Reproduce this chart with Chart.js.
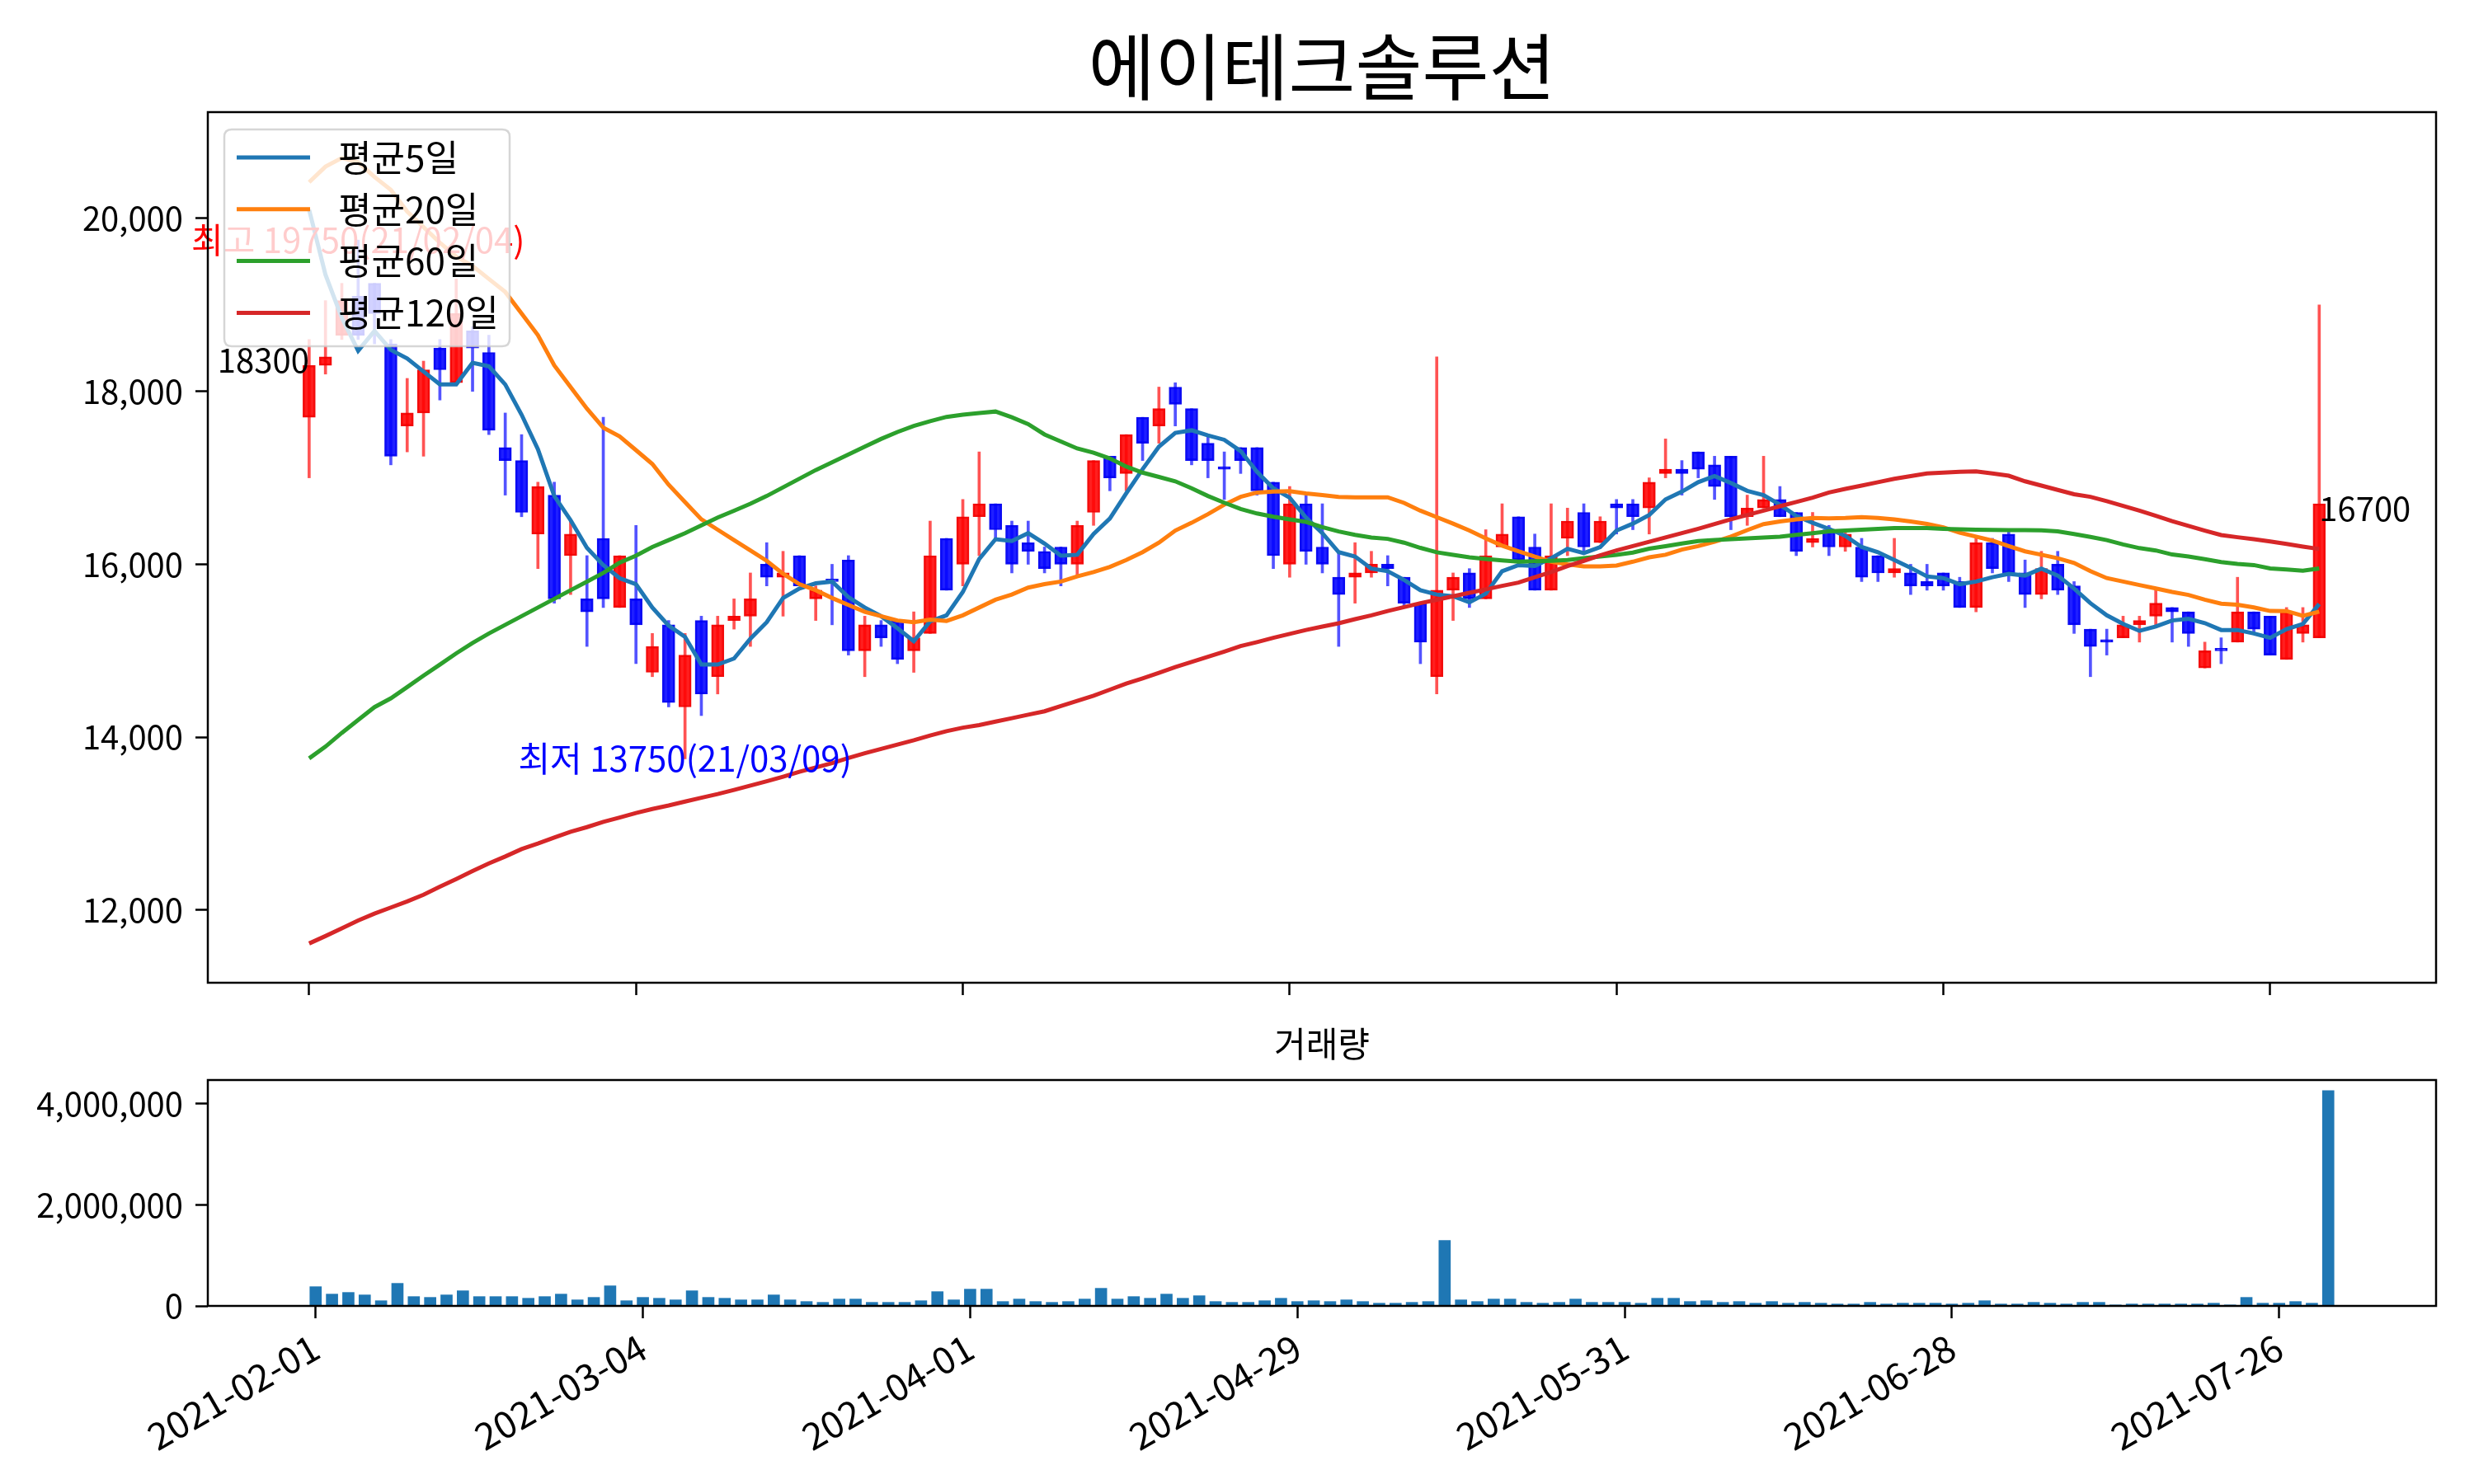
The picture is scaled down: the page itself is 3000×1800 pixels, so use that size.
<!DOCTYPE html>
<html>
<head>
<meta charset="utf-8">
<script src="https://cdn.jsdelivr.net/npm/chart.js@4.4.0/dist/chart.umd.min.js"></script>
<style>
html,body{margin:0;padding:0;background:#fff;}
#wrap{position:relative;width:3000px;height:1800px;background:#fff;overflow:hidden;}
#c1{position:absolute;left:0;top:0;}
#c2{position:absolute;left:0;top:1240px;}
</style>
</head>
<body>
<div id="wrap">
<canvas id="c1" width="3000" height="1240"></canvas>
<canvas id="c2" width="3000" height="560"></canvas>
</div>
<script>
// ---------------- data ----------------
const chartTitle = '에이테크솔루션';
const volumeTitle = '거래량';
const maLabels = ['평균5일', '평균20일', '평균60일', '평균120일'];

const dates = [
 '2021-02-01','2021-02-02','2021-02-03','2021-02-04','2021-02-05','2021-02-08','2021-02-09','2021-02-10','2021-02-15','2021-02-16',
 '2021-02-17','2021-02-18','2021-02-19','2021-02-22','2021-02-23','2021-02-24','2021-02-25','2021-02-26','2021-03-02','2021-03-03',
 '2021-03-04','2021-03-05','2021-03-08','2021-03-09','2021-03-10','2021-03-11','2021-03-12','2021-03-15','2021-03-16','2021-03-17',
 '2021-03-18','2021-03-19','2021-03-22','2021-03-23','2021-03-24','2021-03-25','2021-03-26','2021-03-29','2021-03-30','2021-03-31',
 '2021-04-01','2021-04-02','2021-04-05','2021-04-06','2021-04-07','2021-04-08','2021-04-09','2021-04-12','2021-04-13','2021-04-14',
 '2021-04-15','2021-04-16','2021-04-19','2021-04-20','2021-04-21','2021-04-22','2021-04-23','2021-04-26','2021-04-27','2021-04-28',
 '2021-04-29','2021-04-30','2021-05-03','2021-05-04','2021-05-06','2021-05-07','2021-05-10','2021-05-11','2021-05-12','2021-05-13',
 '2021-05-14','2021-05-17','2021-05-18','2021-05-20','2021-05-21','2021-05-24','2021-05-25','2021-05-26','2021-05-27','2021-05-28',
 '2021-05-31','2021-06-01','2021-06-02','2021-06-03','2021-06-04','2021-06-07','2021-06-08','2021-06-09','2021-06-10','2021-06-11',
 '2021-06-14','2021-06-15','2021-06-16','2021-06-17','2021-06-18','2021-06-21','2021-06-22','2021-06-23','2021-06-24','2021-06-25',
 '2021-06-28','2021-06-29','2021-06-30','2021-07-01','2021-07-02','2021-07-05','2021-07-06','2021-07-07','2021-07-08','2021-07-09',
 '2021-07-12','2021-07-13','2021-07-14','2021-07-15','2021-07-16','2021-07-19','2021-07-20','2021-07-21','2021-07-22','2021-07-23',
 '2021-07-26','2021-07-27','2021-07-28','2021-07-29'
];

const openPrices = [
 17700,18300,18650,19100,19250,18550,17600,17750,18500,18100,
 18700,18450,17350,17200,16350,16800,16100,15600,16300,15500,
 15600,14750,15300,14350,15350,14700,15350,15400,16000,15850,
 16100,15600,15800,16050,15000,15300,15350,15000,15200,16300,
 16000,16550,16700,16450,16250,16150,16200,16000,16600,17250,
 17050,17700,17600,18050,17800,17400,17100,17350,17350,16950,
 16000,16700,16200,15850,15850,15900,16000,15850,15550,14700,
 15700,15900,15600,16200,16550,16200,15700,16300,16600,16250,
 16700,16700,16650,17050,17100,17300,17150,17250,16550,16650,
 16750,16600,16250,16400,16200,16200,16100,15900,15900,15800,
 15900,15800,15500,16250,16350,15900,15650,16000,15750,15250,
 15100,15150,15300,15400,15500,15450,14800,15000,15100,15450,
 15400,14900,15200,15150
];
const highPrices = [
 18600,19050,19250,19750,19250,18600,18150,18350,18600,19300,
 18750,18650,17750,17500,16950,16950,16500,16100,17700,16100,
 16450,15200,15350,15200,15400,15400,15600,15900,16250,16150,
 16100,15750,16000,16100,15400,15350,15350,15450,16500,16300,
 16750,17300,16700,16500,16500,16200,16200,16500,17200,17250,
 17500,17700,18050,18100,17800,17500,17300,17350,17350,16950,
 16900,16800,16700,16150,16250,16150,16100,15850,15550,18400,
 15900,15950,16400,16700,16550,16350,16700,16650,16700,16550,
 16750,16750,17000,17450,17200,17300,17250,17250,16800,17250,
 16900,16600,16600,16450,16400,16300,16100,16300,16000,16000,
 15900,15850,16300,16300,16400,16050,16150,16150,15800,15250,
 15250,15400,15400,15700,15500,15450,15100,15150,15850,15450,
 15400,15500,15500,19000
];
const lowPrices = [
 17000,18200,18600,18600,18550,17150,17300,17250,17900,18100,
 18000,17500,16800,16550,15950,15550,15650,15050,15500,15500,
 14850,14700,14350,13750,14250,14500,15250,15050,15750,15400,
 15750,15350,15300,14950,14700,15050,14850,14750,15200,15700,
 15750,16100,16300,15900,16000,15900,15750,15850,16450,16850,
 16850,17200,17400,17600,17150,17000,16750,17050,16800,15950,
 15850,16000,15900,15050,15550,15850,15750,15500,14850,14500,
 15350,15500,15600,16200,16000,15700,15700,16100,16150,16250,
 16350,16400,16350,17000,16800,17000,16750,16400,16450,16650,
 16550,16100,16200,16100,16150,15800,15800,15850,15650,15700,
 15700,15500,15450,15900,15800,15500,15600,15650,15200,14700,
 14950,15150,15100,15300,15100,15050,14800,14850,15100,15200,
 14950,14900,15100,15150
];
const closePrices = [
 18300,18400,19050,18650,18900,17250,17750,18250,18250,18900,
 18500,17550,17200,16600,16900,15600,16350,15450,15600,16100,
 15300,15050,14400,14950,14500,15300,15400,15600,15850,15900,
 15750,15700,15800,15000,15300,15150,14900,15150,16100,15700,
 16550,16700,16400,16000,16150,15950,16000,16450,17200,17000,
 17500,17400,17800,17850,17200,17200,17100,17200,16850,16100,
 16700,16150,16000,15650,15900,16000,15950,15550,15100,15700,
 15850,15600,16100,16350,16050,15700,16100,16500,16200,16500,
 16650,16550,16950,17100,17050,17100,16900,16550,16650,16750,
 16550,16150,16300,16200,16350,15850,15900,15950,15750,15750,
 15750,15500,16250,15950,15900,15650,15950,15700,15300,15050,
 15100,15300,15350,15550,15450,15200,15000,15000,15450,15250,
 14950,15450,15300,16700
];
const volumes = [
 381000,234000,267000,218000,103000,447000,185000,169000,218000,300000,
 185000,185000,185000,152000,185000,234000,120000,169000,398000,103000,
 169000,152000,120000,300000,169000,152000,120000,120000,218000,120000,
 87000,71000,136000,136000,71000,71000,71000,103000,283000,120000,
 332000,332000,87000,136000,87000,71000,87000,136000,349000,136000,
 185000,152000,234000,152000,202000,87000,71000,71000,103000,152000,
 87000,103000,87000,120000,87000,54000,54000,71000,87000,1296000,
 120000,87000,136000,136000,71000,54000,71000,136000,71000,71000,
 71000,54000,152000,152000,87000,103000,71000,87000,54000,87000,
 54000,71000,54000,38000,38000,71000,38000,54000,54000,54000,
 38000,54000,103000,38000,38000,71000,54000,38000,71000,71000,
 20000,38000,38000,38000,38000,38000,54000,20000,169000,54000,
 54000,87000,54000,4263000
];
const ma5 = [
 20100,19350,18850,18470,18700,18480,18380,18230,18080,18080,
 18330,18290,18080,17730,17330,16790,16510,16190,15990,15840,
 15770,15500,15290,15160,14840,14840,14910,15140,15330,15610,
 15720,15780,15800,15620,15500,15400,15260,15110,15340,15410,
 15680,16060,16290,16270,16360,16240,16100,16110,16350,16530,
 16820,17100,17360,17520,17550,17490,17440,17310,17070,16880,
 16770,16540,16360,16140,16090,15950,15920,15820,15700,15650,
 15630,15560,15660,15920,15990,15980,16070,16180,16130,16200,
 16390,16470,16570,16750,16840,16950,17020,16940,16850,16800,
 16690,16560,16480,16410,16330,16200,16140,16050,15960,15860,
 15840,15770,15800,15850,15890,15870,15950,15870,15720,15550,
 15410,15310,15230,15280,15350,15370,15320,15240,15240,15200,
 15150,15250,15310,15540
];
const ma20 = [
 20420,20600,20700,20650,20480,20330,20080,19900,19720,19560,
 19450,19300,19150,18900,18650,18300,18050,17800,17580,17480,
 17320,17160,16920,16720,16520,16400,16280,16160,16040,15890,
 15770,15700,15610,15530,15450,15400,15350,15330,15360,15345,
 15410,15500,15590,15650,15730,15770,15800,15860,15910,15970,
 16050,16140,16250,16390,16480,16580,16690,16780,16830,16840,
 16845,16820,16800,16780,16775,16775,16775,16710,16620,16545,
 16470,16390,16300,16215,16150,16090,16030,16000,15975,15975,
 15985,16030,16080,16110,16170,16210,16260,16320,16395,16465,
 16495,16520,16535,16530,16535,16545,16535,16520,16495,16467,
 16427,16365,16320,16274,16210,16150,16110,16070,16016,15920,
 15840,15800,15760,15720,15680,15646,15590,15545,15533,15501,
 15460,15459,15405,15453
];
const ma60 = [
 13755,13891,14050,14200,14348,14450,14580,14712,14840,14970,
 15090,15200,15300,15400,15500,15600,15700,15800,15900,16020,
 16100,16200,16280,16360,16450,16540,16620,16700,16790,16890,
 16990,17090,17179,17270,17360,17450,17530,17600,17655,17705,
 17730,17750,17767,17700,17621,17502,17420,17340,17290,17224,
 17130,17060,17010,16960,16880,16790,16712,16640,16588,16550,
 16520,16490,16430,16380,16340,16310,16294,16250,16190,16139,
 16110,16080,16061,16045,16030,16035,16040,16049,16070,16090,
 16110,16135,16180,16210,16240,16268,16280,16290,16300,16310,
 16320,16340,16360,16380,16390,16400,16410,16418,16418,16418,
 16410,16405,16400,16398,16396,16395,16393,16380,16350,16316,
 16280,16230,16187,16160,16113,16090,16060,16026,16005,15991,
 15952,15940,15926,15952
];
const ma120 = [
 11614,11700,11790,11880,11960,12030,12100,12178,12270,12360,
 12451,12540,12620,12706,12770,12840,12906,12960,13020,13070,
 13124,13170,13210,13255,13300,13342,13390,13440,13490,13543,
 13600,13650,13700,13760,13815,13865,13915,13965,14020,14070,
 14110,14140,14180,14220,14260,14300,14360,14420,14480,14550,
 14620,14680,14744,14810,14870,14930,14990,15054,15100,15150,
 15195,15240,15280,15318,15365,15410,15460,15505,15550,15590,
 15630,15670,15710,15750,15788,15850,15910,15980,16040,16104,
 16160,16210,16260,16310,16360,16411,16465,16520,16570,16620,
 16672,16720,16770,16830,16872,16910,16950,16989,17020,17050,
 17060,17070,17075,17050,17024,16960,16910,16860,16810,16780,
 16730,16676,16620,16560,16499,16445,16390,16338,16313,16290,
 16264,16235,16205,16177
];

const priceTicks = [12000, 14000, 16000, 18000, 20000];
const volumeTicks = [0, 2000000, 4000000];
const dateTickIndices = [0, 20, 40, 60, 80, 100, 120];

// ---------------- style ----------------
const FONT = '"Noto Sans CJK KR", "Noto Sans", sans-serif';
const UP_FILL = 'rgba(255,0,0,0.88)', UP_EDGE = 'rgba(240,0,0,0.95)', UP_WICK = 'rgba(255,40,40,0.8)';
const DN_FILL = 'rgba(0,0,255,0.88)', DN_EDGE = 'rgba(0,0,240,0.95)', DN_WICK = 'rgba(40,40,255,0.8)';
const MA_COLORS = ['#1f77b4', '#ff7f0e', '#2ca02c', '#d62728'];
const MA_WIDTH = 5;

const idx = dates.map((d, i) => i);
const isUp = i => closePrices[i] > openPrices[i];
const lineData = arr => arr.map((v, i) => ({x: i, y: v}));
const shortDate = d => d.slice(2).replace(/-/g, '/');
const fmt = v => Number(v).toLocaleString('en-US');

// extremes from data
let hiI = 0, loI = 0;
highPrices.forEach((v, i) => { if (v > highPrices[hiI]) hiI = i; });
lowPrices.forEach((v, i) => { if (v < lowPrices[loI]) loI = i; });

function frame(chart) {
  const a = chart.chartArea, ctx = chart.ctx;
  ctx.save();
  ctx.strokeStyle = '#000';
  ctx.lineWidth = 2.5;
  ctx.strokeRect(a.left, a.top, a.right - a.left, a.bottom - a.top);
  ctx.restore();
}

const overlayTop = {
  id: 'overlayTop',
  afterDatasetsDraw(chart) {
    const ctx = chart.ctx, xs = chart.scales.x, ys = chart.scales.y, a = chart.chartArea;
    ctx.save();
    ctx.font = '42px ' + FONT;
    ctx.textBaseline = 'middle';
    // annotations
    ctx.textAlign = 'center';
    ctx.fillStyle = '#ff0000';
    ctx.fillText('최고 ' + highPrices[hiI] + '(' + shortDate(dates[hiI]) + ')', xs.getPixelForValue(hiI), ys.getPixelForValue(highPrices[hiI]));
    ctx.fillStyle = '#0000ff';
    ctx.fillText('최저 ' + lowPrices[loI] + '(' + shortDate(dates[loI]) + ')', xs.getPixelForValue(loI), ys.getPixelForValue(lowPrices[loI]));
    ctx.font = '40px ' + FONT;
    ctx.fillStyle = '#000';
    ctx.textAlign = 'right';
    ctx.fillText(String(closePrices[0]), xs.getPixelForValue(0), ys.getPixelForValue(closePrices[0]) - 6);
    const last = closePrices.length - 1;
    ctx.textAlign = 'left';
    ctx.fillText(String(closePrices[last]), xs.getPixelForValue(last), ys.getPixelForValue(closePrices[last]) + 6);

    // legend box
    const bx = a.left + 20, by = a.top + 21, bw = 346, bh = 263, r = 9;
    ctx.beginPath();
    ctx.moveTo(bx + r, by);
    ctx.lineTo(bx + bw - r, by);
    ctx.quadraticCurveTo(bx + bw, by, bx + bw, by + r);
    ctx.lineTo(bx + bw, by + bh - r);
    ctx.quadraticCurveTo(bx + bw, by + bh, bx + bw - r, by + bh);
    ctx.lineTo(bx + r, by + bh);
    ctx.quadraticCurveTo(bx, by + bh, bx, by + bh - r);
    ctx.lineTo(bx, by + r);
    ctx.quadraticCurveTo(bx, by, bx + r, by);
    ctx.closePath();
    ctx.fillStyle = 'rgba(255,255,255,0.8)';
    ctx.fill();
    ctx.strokeStyle = 'rgba(204,204,204,0.8)';
    ctx.lineWidth = 2.5;
    ctx.stroke();
    ctx.textAlign = 'left';
    ctx.font = '44px ' + FONT;
    maLabels.forEach((lab, k) => {
      const y = a.top + 55 + 62.8 * k;
      ctx.strokeStyle = MA_COLORS[k];
      ctx.lineWidth = MA_WIDTH;
      ctx.beginPath();
      ctx.moveTo(a.left + 35, y);
      ctx.lineTo(a.left + 124, y);
      ctx.stroke();
      ctx.fillStyle = '#000';
      ctx.fillText(lab, a.left + 158, y);
    });
    ctx.restore();
  },
  afterDraw(chart) {
    frame(chart);
    const ctx = chart.ctx, a = chart.chartArea;
    ctx.save();
    ctx.font = '88px ' + FONT;
    ctx.fillStyle = '#000';
    ctx.textAlign = 'center';
    ctx.textBaseline = 'middle';
    ctx.fillText(chartTitle, (a.left + a.right) / 2, 81);
    ctx.restore();
  }
};

const overlayBottom = {
  id: 'overlayBottom',
  afterDraw(chart) {
    frame(chart);
    const ctx = chart.ctx, a = chart.chartArea;
    ctx.save();
    ctx.font = '42px ' + FONT;
    ctx.fillStyle = '#000';
    ctx.textAlign = 'center';
    ctx.textBaseline = 'middle';
    ctx.fillText(volumeTitle, (a.left + a.right) / 2, a.top - 44);
    ctx.restore();
  }
};

const tickGrid = {display: true, drawOnChartArea: false, drawTicks: true, tickLength: 15, tickWidth: 2.5, tickColor: '#000', color: '#000', offset: false};

Chart.defaults.font.family = FONT;

const maDataset = (k, arr, order) => ({type: 'line', label: maLabels[k], data: lineData(arr), borderColor: MA_COLORS[k],
  borderWidth: MA_WIDTH, pointRadius: 0, tension: 0, order: order});

new Chart(document.getElementById('c1'), {
  type: 'bar',
  data: {
    datasets: [
      maDataset(3, ma120, 0),
      maDataset(2, ma60, 1),
      maDataset(1, ma20, 2),
      maDataset(0, ma5, 3),
      {type: 'bar', label: 'body', data: idx.map(i => ({x: i, y: [openPrices[i], closePrices[i]]})),
        backgroundColor: c => isUp(c.dataIndex) ? UP_FILL : DN_FILL,
        borderColor: c => isUp(c.dataIndex) ? UP_EDGE : DN_EDGE,
        borderWidth: 2, borderSkipped: false, barThickness: 15, minBarLength: 3, grouped: false, order: 4},
      {type: 'bar', label: 'wick', data: idx.map(i => ({x: i, y: [lowPrices[i], highPrices[i]]})),
        backgroundColor: c => isUp(c.dataIndex) ? UP_WICK : DN_WICK,
        borderWidth: 0, barThickness: 3, grouped: false, order: 5}
    ]
  },
  options: {
    responsive: false, animation: false, devicePixelRatio: 1,
    layout: {padding: {top: 136, right: 46, left: 0, bottom: 0}},
    plugins: {legend: {display: false}, tooltip: {enabled: false}, title: {display: false}},
    scales: {
      x: {type: 'linear', min: -6.2, max: 130.15, offset: false, grid: tickGrid, border: {display: false},
          ticks: {autoSkip: false, callback: () => '', font: {size: 10}},
          afterBuildTicks: s => { s.ticks = dateTickIndices.map(v => ({value: v})); },
          afterFit: s => { s.height = 48; }},
      y: {type: 'linear', min: 11160, max: 21230, grid: tickGrid, border: {display: false},
          ticks: {padding: 15, color: '#000', font: {size: 40, family: FONT}, callback: v => fmt(v)},
          afterBuildTicks: s => { s.ticks = priceTicks.map(v => ({value: v})); },
          afterFit: s => { s.width = 252; }}
    }
  },
  plugins: [overlayTop]
});

new Chart(document.getElementById('c2'), {
  type: 'bar',
  data: {
    datasets: [
      {label: volumeTitle, data: idx.map(i => ({x: i, y: volumes[i]})), backgroundColor: '#1f77b4', borderWidth: 0, barThickness: 14, grouped: false}
    ]
  },
  options: {
    responsive: false, animation: false, devicePixelRatio: 1,
    layout: {padding: {top: 70, right: 46, left: 0, bottom: 0}},
    plugins: {legend: {display: false}, tooltip: {enabled: false}, title: {display: false}},
    scales: {
      x: {type: 'linear', min: -6.59, max: 129.59, offset: false, grid: tickGrid, border: {display: false},
          ticks: {autoSkip: false, maxRotation: 30, minRotation: 30, padding: 8, color: '#000', font: {size: 45, family: FONT},
                  callback: v => dates[v] || ''},
          afterBuildTicks: s => { s.ticks = dateTickIndices.map(v => ({value: v})); },
          afterFit: s => { s.height = 216; }},
      y: {type: 'linear', min: 0, max: 4473000, grid: tickGrid, border: {display: false},
          ticks: {padding: 15, color: '#000', font: {size: 40, family: FONT}, callback: v => fmt(v)},
          afterBuildTicks: s => { s.ticks = volumeTicks.map(v => ({value: v})); },
          afterFit: s => { s.width = 252; }}
    }
  },
  plugins: [overlayBottom]
});
</script>
</body>
</html>
